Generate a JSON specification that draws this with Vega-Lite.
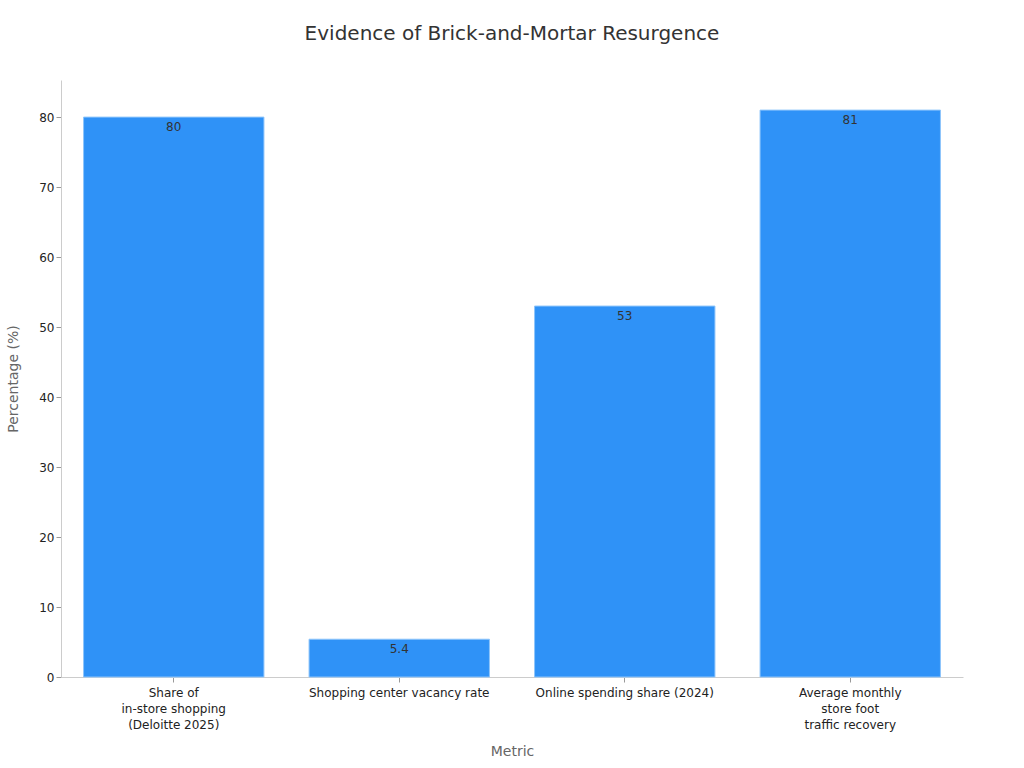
{
  "$schema": "https://vega.github.io/schema/vega-lite/v6.json",
  "width": 902,
  "height": 597,
  "autosize": {"type": "none"},
  "padding": {"left": 61, "top": 80, "right": 61, "bottom": 91},
  "background": "white",
  "title": {
    "text": "Evidence of Brick-and-Mortar Resurgence",
    "fontSize": 20,
    "font": "DejaVu Sans",
    "fontWeight": "normal",
    "color": "#333333",
    "anchor": "middle",
    "offset": 36
  },
  "config": {
    "view": {"stroke": null},
    "font": "DejaVu Sans"
  },
  "data": {
    "values": [
      {"metric": "Share of\nin-store shopping\n(Deloitte 2025)", "value": 80},
      {"metric": "Shopping center vacancy rate", "value": 5.4},
      {"metric": "Online spending share (2024)", "value": 53},
      {"metric": "Average monthly\nstore foot\ntraffic recovery", "value": 81}
    ]
  },
  "encoding": {
    "x": {
      "field": "metric",
      "type": "nominal",
      "sort": null,
      "title": "Metric",
      "scale": {"paddingInner": 0.2, "paddingOuter": 0.1},
      "axis": {
        "labelAngle": 0,
        "labelExpr": "split(datum.value, '\\n')",
        "labelFontSize": 12,
        "labelColor": "#222222",
        "labelLineHeight": 16,
        "labelPadding": 5,
        "labelLimit": 0,
        "tickColor": "#999999",
        "tickSize": 5,
        "domainColor": "#cccccc",
        "titleFontSize": 14,
        "titleFontWeight": "normal",
        "titleColor": "#666666",
        "titlePadding": 14
      }
    },
    "y": {
      "field": "value",
      "type": "quantitative",
      "title": "Percentage (%)",
      "scale": {"domain": [0, 85.3], "nice": false},
      "axis": {
        "values": [0, 10, 20, 30, 40, 50, 60, 70, 80],
        "grid": false,
        "labelFontSize": 12,
        "labelColor": "#222222",
        "tickColor": "#999999",
        "tickSize": 5,
        "domainColor": "#cccccc",
        "titleFontSize": 14,
        "titleFontWeight": "normal",
        "titleColor": "#666666",
        "titlePadding": 18
      }
    }
  },
  "layer": [
    {
      "mark": {"type": "bar", "color": "#2f92f7", "stroke": "#8ec5fb", "strokeWidth": 1}
    },
    {
      "mark": {"type": "text", "baseline": "top", "dy": 5, "fontSize": 12, "color": "#333333"},
      "encoding": {"text": {"field": "value", "type": "quantitative"}}
    }
  ]
}
